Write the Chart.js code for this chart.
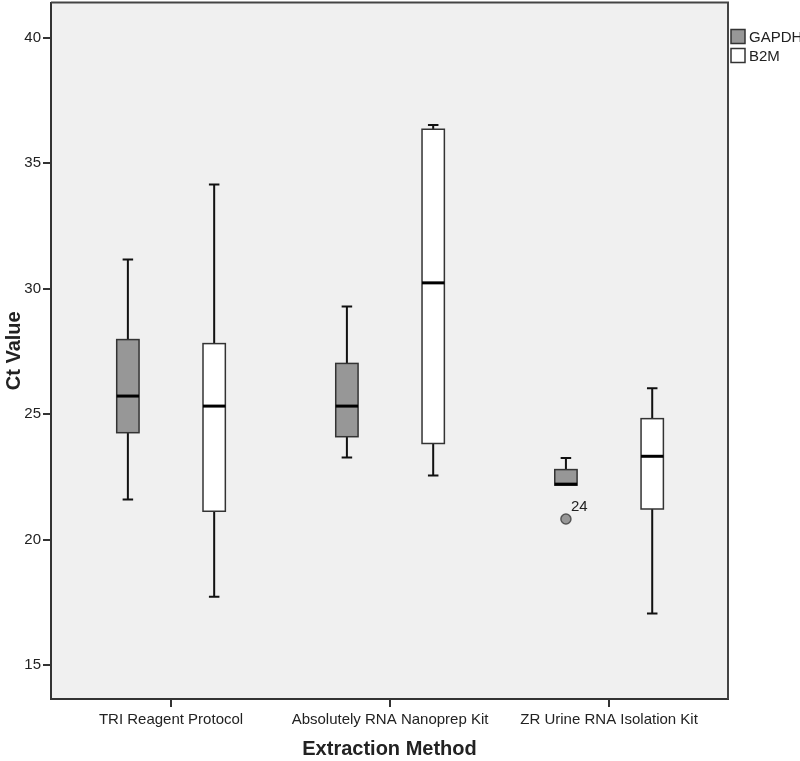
<!DOCTYPE html>
<html>
<head>
<meta charset="utf-8">
<script src="https://cdn.jsdelivr.net/npm/chart.js@4/dist/chart.umd.min.js"></script>
<style>
  html, body { margin: 0; padding: 0; background: #fff; overflow: hidden; }
  #wrap { width: 800px; height: 765px; position: relative; margin-top: -4px; }
</style>
</head>
<body>
<div id="wrap"><canvas id="chart"></canvas></div>
<script>
// ── Data ───────────────────────────────────────────────────────
const categories = ['TRI Reagent Protocol', 'Absolutely RNA Nanoprep Kit', 'ZR Urine RNA Isolation Kit'];
const seriesNames = ['GAPDH', 'B2M'];

const gapdhMin    = [21.60, 23.27, 22.17];
const gapdhQ1     = [24.26, 24.10, 22.17];
const gapdhMedian = [25.72, 25.32, 22.21];
const gapdhQ3     = [27.97, 27.02, 22.79];
const gapdhMax    = [31.16, 29.29, 23.25];

const b2mMin    = [17.72, 22.55, 17.06];
const b2mQ1     = [21.13, 23.83, 21.22];
const b2mMedian = [25.32, 30.23, 23.32];
const b2mQ3     = [27.81, 36.35, 24.82];
const b2mMax    = [34.15, 36.52, 26.03];

// outliers (GAPDH only): category index, value, case label
const gapdhOutlierCat   = [2];
const gapdhOutlierValue = [20.82];
const gapdhOutlierCase  = ['24'];

const yTicks = [15, 20, 25, 30, 35, 40];

// ── Styling ────────────────────────────────────────────────
const FONT = "'Liberation Sans', Arial, sans-serif";
const GREY = '#979797';
const LINE = '#333333';
const GROUP_OFFSET = 0.197;   // dataset offset from category centre (x units)
const BOX_HALF = 0.051;       // half box width (x units)
const CAP_HALF = 0.024;       // half whisker cap width

const boxSeries = [
  { min: gapdhMin, q1: gapdhQ1, med: gapdhMedian, q3: gapdhQ3, max: gapdhMax, fill: GREY, off: -GROUP_OFFSET },
  { min: b2mMin, q1: b2mQ1, med: b2mMedian, q3: b2mQ3, max: b2mMax, fill: '#ffffff', off: GROUP_OFFSET },
];

const outlierPoints = gapdhOutlierCat.map((c, i) => ({ x: c + 1 - GROUP_OFFSET, y: gapdhOutlierValue[i] }));

// ── Plugin: plot background, boxes, frame, legend ───────────────
const boxPlotPlugin = {
  id: 'boxPlot',
  beforeDraw(chart) {
    const { ctx, chartArea: a } = chart;
    ctx.save();
    ctx.fillStyle = '#f0f0f0';
    ctx.fillRect(a.left, a.top, a.right - a.left, a.bottom - a.top);
    ctx.restore();
  },
  beforeDatasetsDraw(chart) {
    const { ctx } = chart;
    const xs = chart.scales.x, ys = chart.scales.y;
    ctx.save();
    boxSeries.forEach((s) => {
      categories.forEach((_, i) => {
        const cx = xs.getPixelForValue(i + 1 + s.off);
        const hw = xs.getPixelForValue(i + 1 + BOX_HALF) - xs.getPixelForValue(i + 1);
        const cw = xs.getPixelForValue(i + 1 + CAP_HALF) - xs.getPixelForValue(i + 1);
        const yMin = ys.getPixelForValue(s.min[i]);
        const yQ1 = ys.getPixelForValue(s.q1[i]);
        const yMed = ys.getPixelForValue(s.med[i]);
        const yQ3 = ys.getPixelForValue(s.q3[i]);
        const yMax = ys.getPixelForValue(s.max[i]);

        // whiskers
        ctx.strokeStyle = '#111';
        ctx.lineWidth = 2;
        ctx.beginPath();
        if (s.max[i] > s.q3[i]) {
          ctx.moveTo(cx, yQ3); ctx.lineTo(cx, yMax);
          ctx.moveTo(cx - cw, yMax); ctx.lineTo(cx + cw, yMax);
        }
        if (s.min[i] < s.q1[i]) {
          ctx.moveTo(cx, yQ1); ctx.lineTo(cx, yMin);
          ctx.moveTo(cx - cw, yMin); ctx.lineTo(cx + cw, yMin);
        }
        ctx.stroke();

        // box
        ctx.fillStyle = s.fill;
        ctx.fillRect(cx - hw, yQ3, hw * 2, yQ1 - yQ3);
        ctx.strokeStyle = LINE;
        ctx.lineWidth = 1.5;
        ctx.strokeRect(cx - hw, yQ3, hw * 2, yQ1 - yQ3);

        // median
        ctx.strokeStyle = '#000';
        ctx.lineWidth = 3;
        ctx.beginPath();
        ctx.moveTo(cx - hw, yMed); ctx.lineTo(cx + hw, yMed);
        ctx.stroke();
      });
    });
    ctx.restore();
  },
  afterDraw(chart) {
    const { ctx, chartArea: a } = chart;
    const xs = chart.scales.x, ys = chart.scales.y;
    ctx.save();
    // top and right frame
    ctx.strokeStyle = '#444';
    ctx.lineWidth = 2;
    ctx.beginPath();
    ctx.moveTo(a.left, a.top); ctx.lineTo(a.right, a.top); ctx.lineTo(a.right, a.bottom);
    ctx.stroke();

    // outlier case labels
    ctx.fillStyle = '#222';
    ctx.font = `15px ${FONT}`;
    ctx.textBaseline = 'bottom';
    ctx.textAlign = 'left';
    outlierPoints.forEach((p, i) => {
      ctx.fillText(gapdhOutlierCase[i], xs.getPixelForValue(p.x) + 5, ys.getPixelForValue(p.y) - 5);
    });

    // legend
    const lx = a.right + 3;
    ctx.textBaseline = 'middle';
    seriesNames.forEach((name, i) => {
      const ly = a.top + 27 + i * 19;
      ctx.fillStyle = boxSeries[i].fill;
      ctx.fillRect(lx, ly, 14, 14);
      ctx.strokeStyle = LINE;
      ctx.lineWidth = 1.5;
      ctx.strokeRect(lx, ly, 14, 14);
      ctx.fillStyle = '#222';
      ctx.fillText(name, lx + 18, ly + 8);
    });
    ctx.restore();
  },
};

// ── Chart ──────────────────────────────────────────────
new Chart(document.getElementById('chart'), {
  type: 'scatter',
  data: {
    datasets: [
      {
        label: seriesNames[0],
        data: outlierPoints,
        pointRadius: 5,
        pointBackgroundColor: GREY,
        pointBorderColor: '#555',
        pointBorderWidth: 1.5,
      },
    ],
  },
  options: {
    responsive: true,
    maintainAspectRatio: false,
    animation: false,
    layout: { padding: { top: 0, right: 72, left: 0, bottom: 0 } },
    plugins: { legend: { display: false }, tooltip: { enabled: false } },
    scales: {
      x: {
        type: 'linear',
        min: 0.452,
        max: 3.543,
        afterBuildTicks: (s) => { s.ticks = categories.map((_, i) => ({ value: i + 1 })); },
        afterFit: (s) => { s.height = 62; s.paddingLeft = 0; s.paddingRight = 0; },
        grid: { drawOnChartArea: false, drawTicks: true, tickLength: 8, color: LINE, lineWidth: 2 },
        border: { display: true, color: LINE, width: 2 },
        ticks: {
          padding: 4,
          maxRotation: 0,
          autoSkip: false,
          color: '#222',
          font: { family: FONT, size: 15 },
          callback: (v) => categories[v - 1] || '',
        },
        title: {
          display: true,
          text: 'Extraction Method',
          color: '#222',
          font: { family: FONT, size: 20, weight: 'bold' },
          padding: { top: 0, bottom: 0 },
        },
      },
      y: {
        type: 'linear',
        min: 13.65,
        max: 41.4,
        afterBuildTicks: (s) => { s.ticks = yTicks.map((v) => ({ value: v })); },
        afterFit: (s) => { s.width = 51; s.paddingTop = 0; s.paddingBottom = 0; },
        grid: { drawOnChartArea: false, drawTicks: true, tickLength: 8, color: LINE, lineWidth: 2 },
        border: { display: true, color: LINE, width: 2 },
        ticks: {
          padding: 2,
          color: '#222',
          font: { family: FONT, size: 15 },
        },
        title: {
          display: true,
          text: 'Ct Value',
          color: '#222',
          font: { family: FONT, size: 20, weight: 'bold' },
          padding: { top: 2, bottom: 0 },
        },
      },
    },
  },
  plugins: [boxPlotPlugin],
});
</script>
</body>
</html>
